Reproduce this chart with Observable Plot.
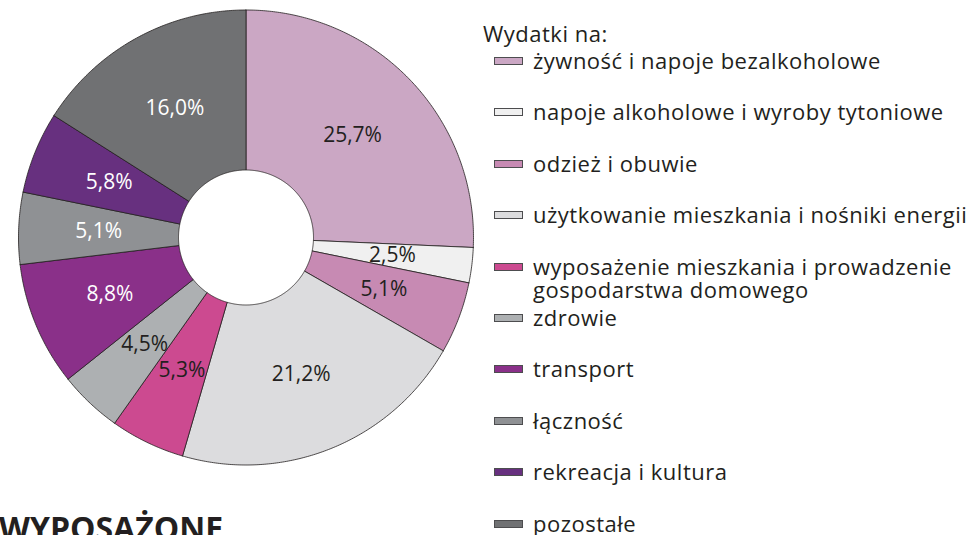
<!DOCTYPE html>
<html>
<head>
<meta charset="utf-8">
<script src="https://cdn.jsdelivr.net/npm/d3@7"></script>
<script src="https://cdn.jsdelivr.net/npm/@observablehq/plot@0.6"></script>
<style>
  html, body { margin: 0; padding: 0; background: #fff; }
  #wrap { position: relative; width: 973px; height: 535px; overflow: hidden; font-family: "Open Sans", sans-serif; color: #231f20; }
  #chart { position: absolute; left: 0; top: 0; }
  #legend { position: absolute; left: 0; top: 0; width: 973px; height: 535px; pointer-events: none; }
  .ltitle { position: absolute; left: 483px; font-size: 22px; letter-spacing: 0.5px; line-height: 26px; white-space: nowrap; }
  .item { position: absolute; left: 494px; height: 24px; display: flex; align-items: center; white-space: nowrap; font-size: 22px; letter-spacing: 0.5px; line-height: 23px; }
  .sw { width: 27px; height: 6px; border: 1px solid #4d4d4f; margin-right: 10px; flex: none; }
  .item .txt { align-self: flex-start; }
  #bottom { position: absolute; left: -1px; top: 512px; font-weight: 700; font-size: 32px; line-height: 32px; white-space: nowrap; color: #231f20; }
</style>
</head>
<body>
<div id="wrap">
  <div id="chart"></div>
  <div id="legend"></div>
  <div id="bottom">WYPOSAŻONE</div>
</div>
<script>
// ---- data ----
const categories = [
  "żywność i napoje bezalkoholowe",
  "napoje alkoholowe i wyroby tytoniowe",
  "odzież i obuwie",
  "użytkowanie mieszkania i nośniki energii",
  "wyposażenie mieszkania i prowadzenie gospodarstwa domowego",
  "zdrowie",
  "transport",
  "łączność",
  "rekreacja i kultura",
  "pozostałe"
];
const shares = [25.7, 2.5, 5.1, 21.2, 5.3, 4.5, 8.8, 5.1, 5.8, 16.0];
const valueLabels = ["25,7%", "2,5%", "5,1%", "21,2%", "5,3%", "4,5%", "8,8%", "5,1%", "5,8%", "16,0%"];
const legendLines = [
  ["żywność i napoje bezalkoholowe"],
  ["napoje alkoholowe i wyroby tytoniowe"],
  ["odzież i obuwie"],
  ["użytkowanie mieszkania i nośniki energii"],
  ["wyposażenie mieszkania i prowadzenie", "gospodarstwa domowego"],
  ["zdrowie"],
  ["transport"],
  ["łączność"],
  ["rekreacja i kultura"],
  ["pozostałe"]
];
const sliceColors = ["#cba7c4", "#f0f0f0", "#c78ab3", "#dcdcde", "#cc4a90", "#adb0b2", "#8a3089", "#8f9194", "#67307f", "#707173"];
const whiteLabel = [false, false, false, false, false, false, true, true, true, true];
const legendTitle = "Wydatki na:";

// ---- geometry (layout) ----
const cx = 245.5, cy = 237, R = 227.5, r0 = 67.5;
const inner = r0 / R;
const total = d3.sum(shares);

const polys = [];
const labels = [];
let cum = 0;
shares.forEach((v, i) => {
  const a0 = cum / total * 2 * Math.PI;
  cum += v;
  const a1 = cum / total * 2 * Math.PI;
  const n = Math.max(2, Math.ceil((a1 - a0) / (Math.PI / 360)));
  const pts = [];
  for (let k = 0; k <= n; k++) {
    const a = a0 + (a1 - a0) * k / n;
    pts.push({x: Math.sin(a), y: Math.cos(a)});
  }
  for (let k = n; k >= 0; k--) {
    const a = a0 + (a1 - a0) * k / n;
    pts.push({x: inner * Math.sin(a), y: inner * Math.cos(a)});
  }
  pts.push(pts[0]);
  pts.forEach(p => polys.push({cat: categories[i], x: p.x, y: p.y}));
  const am = (a0 + a1) / 2, rm = (1 + inner) / 2;
  labels.push({cat: categories[i], label: valueLabels[i], white: whiteLabel[i], x: rm * Math.sin(am), y: rm * Math.cos(am)});
});

const plot = Plot.plot({
  width: 973,
  height: 535,
  margin: 0,
  style: {background: "transparent", fontFamily: "Open Sans, sans-serif"},
  x: {domain: [-1, 1], range: [cx - R, cx + R], axis: null},
  y: {domain: [-1, 1], range: [cy + R, cy - R], axis: null},
  color: {domain: categories, range: sliceColors},
  marks: [
    Plot.line(polys, {x: "x", y: "y", z: "cat", fill: "cat", stroke: "#231f20", strokeWidth: 0.8, curve: "linear", strokeLinejoin: "miter"}),
    Plot.text(labels.filter(d => !d.white), {x: "x", y: "y", text: "label", fill: "#231f20", fontSize: 21}),
    Plot.text(labels.filter(d => d.white), {x: "x", y: "y", text: "label", fill: "#ffffff", fontSize: 21})
  ]
});
document.getElementById("chart").appendChild(plot);

// ---- legend ----
const legend = document.getElementById("legend");
const t = document.createElement("div");
t.className = "ltitle";
t.style.top = "20px";
t.textContent = legendTitle;
legend.appendChild(t);
const row0 = 61, rowStep = 51.4;
categories.forEach((c, i) => {
  const yc = row0 + rowStep * i;
  const it = document.createElement("div");
  it.className = "item";
  it.style.top = (yc - 12) + "px";
  const sw = document.createElement("div");
  sw.className = "sw";
  sw.style.background = sliceColors[i];
  it.appendChild(sw);
  const tx = document.createElement("div");
  tx.className = "txt";
  tx.innerHTML = legendLines[i].join("<br>");
  it.appendChild(tx);
  legend.appendChild(it);
});
</script>
</body>
</html>
